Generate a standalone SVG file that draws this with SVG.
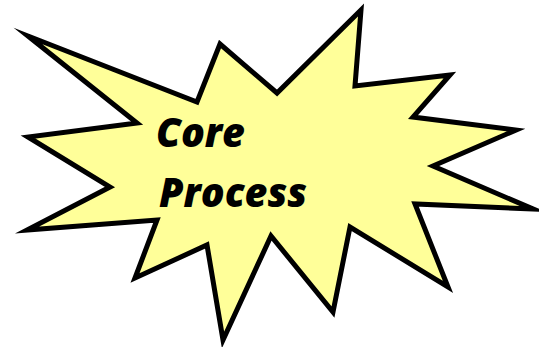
<svg xmlns="http://www.w3.org/2000/svg" width="539" height="347" viewBox="0 0 539 347">
<style>
.star{fill:#ffff99;stroke:#000;stroke-width:5;stroke-linejoin:miter;stroke-miterlimit:20}
.lbl{font-family:"Open Sans","Noto Sans",sans-serif;font-weight:800;font-style:italic;font-size:41px;fill:#000}
</style>
<g id="core-process">
<polygon class="star" points="28,36 197,102 220,44 277,93 361,10 355,86 450,75 413,117 516,130 433,166 533,209 415,204 448,287 350,227 333,312 271,236 223,340 207,245 135,278 157,220 27,230 110,187 28,137 137,123"/>
<text class="lbl" x="156" y="147" textLength="89" lengthAdjust="spacingAndGlyphs">Core</text>
<text class="lbl" x="159" y="207" textLength="148" lengthAdjust="spacingAndGlyphs">Process</text>
</g>
</svg>
